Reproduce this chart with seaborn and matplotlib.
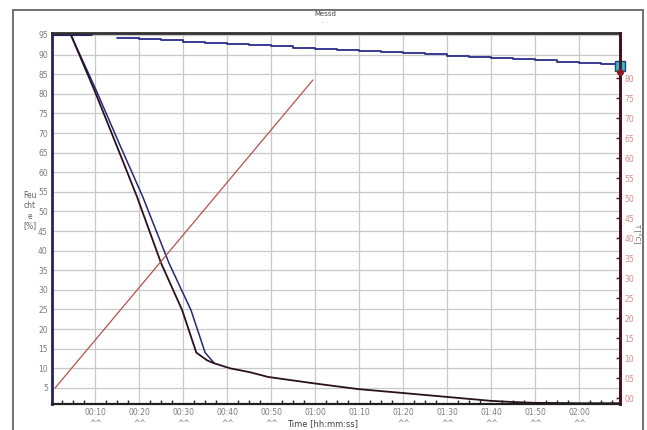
import numpy as np
import pandas as pd
import matplotlib
matplotlib.use('Agg')
import matplotlib.pyplot as plt
from matplotlib.lines import Line2D
from matplotlib.ticker import MultipleLocator, FixedLocator
import seaborn as sns

# Data (time in minutes)
blue_top_t = [0, 9]
blue_top_v = [95.3, 95.3]

blue_t = [15, 20, 25, 30, 35, 40, 45, 50, 55, 60, 65, 70, 75, 80, 85, 90,
          95, 100, 105, 110, 115, 120, 125, 129.3]
blue_v = [94.1, 93.9, 93.6, 93.3, 93.0, 92.8, 92.4, 92.1, 91.8, 91.4, 91.2, 90.9,
          90.6, 90.3, 90.1, 89.7, 89.4, 89.1, 88.8, 88.5, 88.1, 87.8, 87.5, 87.1]

dry_a_t = [4.5, 9.8, 15.0, 19.5, 25.0, 29.8, 33.0, 35.5, 37.0, 40.7, 45.2, 49.3,
           59.5, 69.8, 80.0, 90.0, 100.0, 105.0, 110.0, 120.0, 129.3]
dry_a_v = [95.0, 81.0, 66.5, 53.8, 36.8, 24.8, 14.0, 12.0, 11.3, 10.0, 9.0, 7.8,
           6.2, 4.7, 3.7, 2.7, 1.7, 1.4, 1.2, 1.1, 1.1]

dry_b_t = [4.5, 10.2, 15.8, 20.8, 26.8, 31.8, 35.0, 37.0]
dry_b_v = [95.0, 81.0, 66.5, 53.8, 36.8, 24.8, 14.0, 11.4]

temp_t = [0.9, 59.5]
temp_v = [2.5, 79.5]

end_t = 129.3
end_hum = 87.1
end_temp = 81.5

x_ticks = [10, 20, 30, 40, 50, 60, 70, 80, 90, 100, 110, 120]
x_labels = ['00:10', '00:20', '00:30', '00:40', '00:50', '01:00',
            '01:10', '01:20', '01:30', '01:40', '01:50', '02:00']
x_sub = ['^^', '^^', '^^', '^^', '^^', '', '', '^^', '^^', '^^', '^^', '^^']
left_ticks = list(range(5, 100, 5))
right_ticks = list(range(0, 85, 5))


def main():
    sns.set_theme(style='white')
    plt.rcParams['font.family'] = ['DejaVu Sans']

    fig = plt.figure(figsize=(6.47, 4.30), dpi=100)
    ax = fig.add_axes([52 / 647, 1 - 404 / 430, (620 - 52) / 647, (404 - 33) / 430])

    ax.set_xlim(0.2, 129.3)
    ax.set_ylim(0.9, 95.5)

    # grid
    ax.yaxis.set_major_locator(FixedLocator(left_ticks))
    ax.xaxis.set_major_locator(FixedLocator(x_ticks))
    ax.xaxis.set_minor_locator(MultipleLocator(2.5))
    ax.grid(True, which='major', color='#c8c8c8', linewidth=0.9)
    ax.set_axisbelow(True)

    df_top = pd.DataFrame({'t': blue_top_t, 'v': blue_top_v})
    df_blue = pd.DataFrame({'t': blue_t, 'v': blue_v})
    df_a = pd.DataFrame({'t': dry_a_t, 'v': dry_a_v})
    df_b = pd.DataFrame({'t': dry_b_t, 'v': dry_b_v})

    sns.lineplot(data=df_top, x='t', y='v', ax=ax, color='#23236e', linewidth=2.2)
    sns.lineplot(data=df_blue, x='t', y='v', ax=ax, color='#2b2b8c', linewidth=1.3,
                 drawstyle='steps-post')
    sns.lineplot(data=df_b, x='t', y='v', ax=ax, color='#27277a', linewidth=1.1)
    sns.lineplot(data=df_a, x='t', y='v', ax=ax, color='#2a1020', linewidth=1.3)
    ax.plot([end_t], [end_hum], marker='s', markersize=7, color='#35b8d0',
            markeredgecolor='#1e4a6a', markeredgewidth=1.0, clip_on=False, zorder=6)

    ax.set_xlabel('')
    ax.set_ylabel('')
    ax.set_xticks(x_ticks)
    ax.set_xticklabels([lab + '\n' + sub if sub else lab
                        for lab, sub in zip(x_labels, x_sub)])
    ax.tick_params(axis='y', labelsize=5.5, labelcolor='#7a7a7a', length=0, pad=3)
    ax.tick_params(axis='x', which='major', labelsize=5.5, labelcolor='#7a7a7a',
                   direction='in', length=4, width=1, color='#202020', pad=3)
    ax.tick_params(axis='x', which='minor', direction='in', length=3, width=1,
                   color='#202020', bottom=True)
    for lab in ax.get_xticklabels():
        lab.set_verticalalignment('top')

    for side, col, lw in [('left', '#22225e', 2.0), ('top', '#303030', 2.0),
                          ('bottom', '#202020', 1.6), ('right', '#4a1020', 2.0)]:
        ax.spines[side].set_visible(True)
        ax.spines[side].set_color(col)
        ax.spines[side].set_linewidth(lw)

    # right temperature axis
    ax2 = ax.twinx()
    ax2.set_ylim(-1.5, 91.25)
    df_temp = pd.DataFrame({'t': temp_t, 'v': temp_v})
    sns.lineplot(data=df_temp, x='t', y='v', ax=ax2, color='#b5524a', linewidth=0.9)
    ax2.plot([end_t], [end_temp], marker='o', markersize=4, color='#8a1a2a',
             clip_on=False, zorder=6)
    ax2.set_yticks(right_ticks)
    ax2.set_yticklabels(['%02d' % v for v in right_ticks])
    ax2.tick_params(axis='y', labelsize=5.5, labelcolor='#d88a8a', direction='in',
                    length=3, width=1, color='#4a1020', pad=3)
    ax2.set_ylabel('')
    ax2.set_xlabel('')
    ax2.grid(False)
    for side in ['left', 'top', 'bottom']:
        ax2.spines[side].set_visible(False)
    ax2.spines['right'].set_color('#4a1020')
    ax2.spines['right'].set_linewidth(2.0)

    # outer frame
    fx0, fx1 = 13 / 647, 643 / 647
    fy1 = 1 - 10 / 430
    for xs, ys in [([fx0, fx0], [0, fy1]), ([fx0, fx1], [fy1, fy1]), ([fx1, fx1], [fy1, 0])]:
        fig.add_artist(Line2D(xs, ys, color='#707070', linewidth=1.4))

    fig.text(325 / 647, 1 - 14 / 430, 'Messd', ha='center', va='center',
             fontsize=5, color='#404040')
    fig.text(325 / 647, 1 - 23 / 430, '- -', ha='center', va='center',
             fontsize=4, color='#b0b0b0')

    for i, s in enumerate(['Feu', 'cht', 'e', '[%]']):
        fig.text(30 / 647, 1 - (196 + i * 10) / 430, s, ha='center', va='center',
                 fontsize=5.5, color='#606060')

    fig.text(637 / 647, 1 - 233 / 430, 'T [°C]', ha='center', va='center',
             rotation=270, fontsize=5, color='#606060')

    fig.text(323 / 647, 1 - 424 / 430, 'Time [hh:mm:ss]', ha='center', va='center',
             fontsize=6, color='#404040')

    fig.savefig('out.png', dpi=100)
    plt.close(fig)


if __name__ == '__main__':
    main()
